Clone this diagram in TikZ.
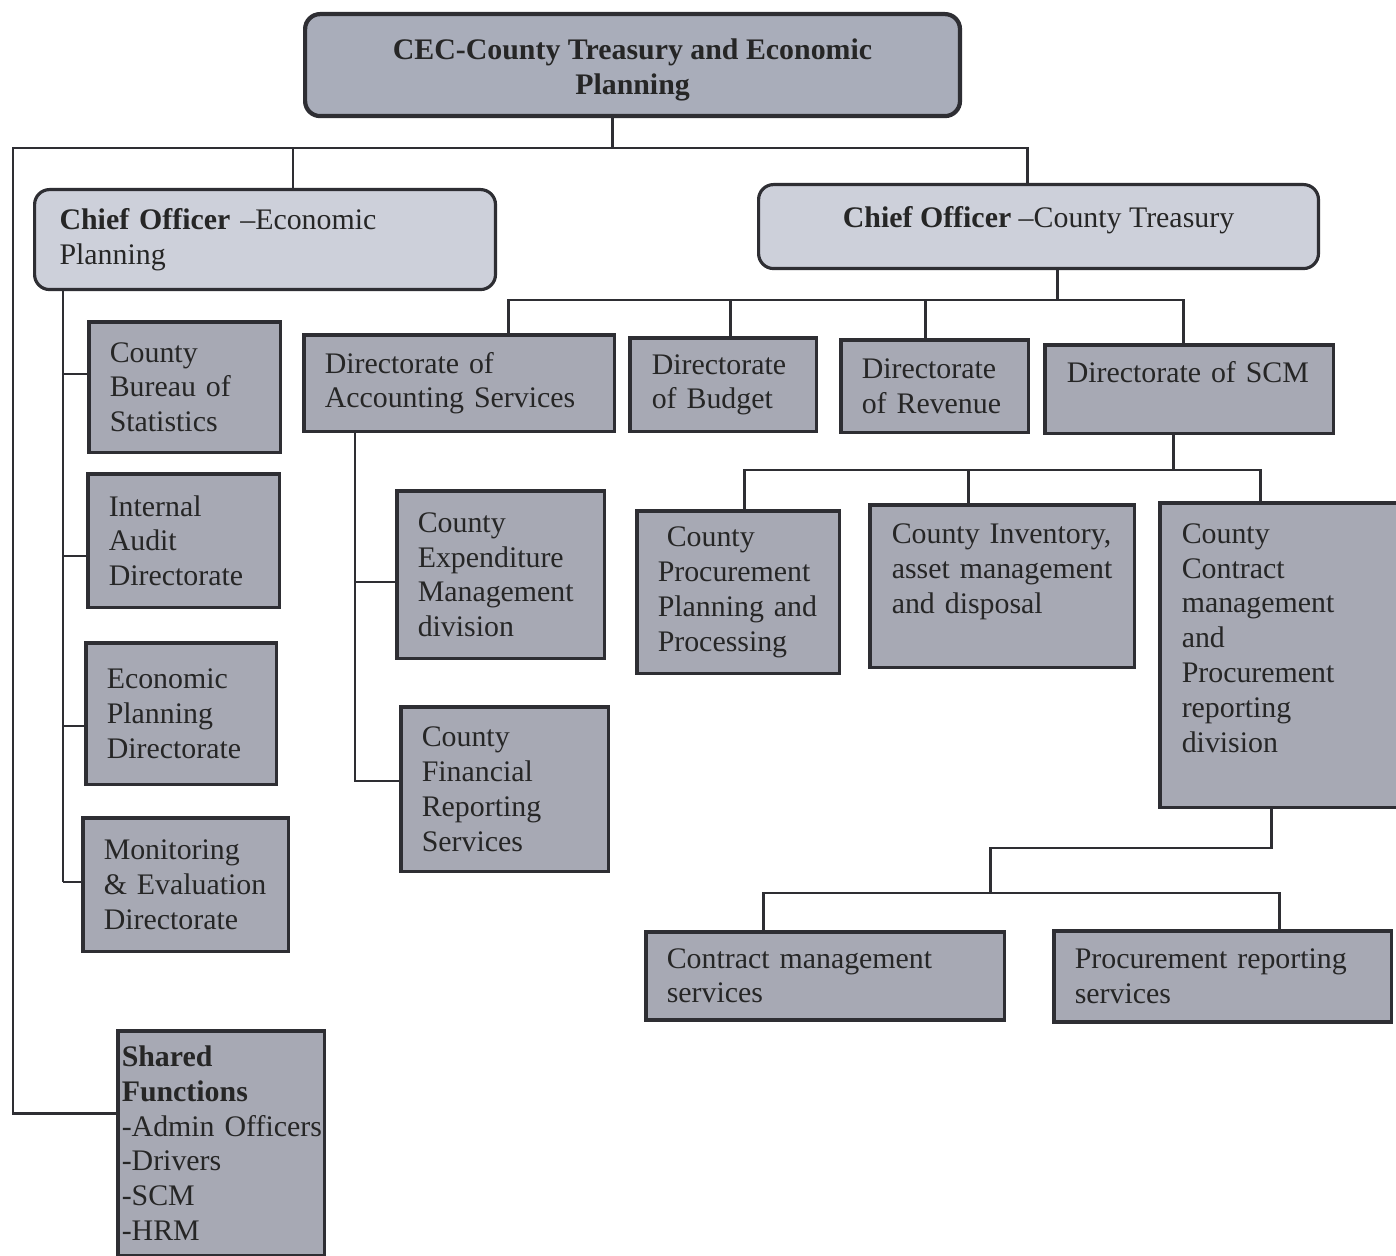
\documentclass[tikz,border=0pt]{standalone}
\usepackage{fontspec}
\setmainfont{Liberation Serif}
\usepackage{tikz}
\definecolor{ink}{HTML}{2E2E33}
\definecolor{cecfill}{HTML}{A9ADBA}
\definecolor{chieffill}{HTML}{CDD0DA}
\definecolor{unitfill}{HTML}{A7A9B4}

\begin{document}
\begin{tikzpicture}[x=0.02cm, y=-0.02cm, font={\fontsize{17}{19.8}\selectfont},
    link/.style = {draw=ink, line width=1.7pt},
    head/.style = {draw=ink, fill=cecfill, line width=2.4pt, rounded corners=0.3cm, anchor=north west, align=center, inner sep=0pt, text=black!85, font={\fontsize{17}{19.8}\selectfont\bfseries}},
    chief/.style = {draw=ink, fill=chieffill, line width=1.8pt, rounded corners=0.3cm, anchor=north west, inner ysep=0pt, text=black!85},
    unit/.style = {draw=ink, fill=unitfill, line width=2pt, anchor=north west, align=left, inner xsep=0.42cm, inner ysep=0pt, text=black!85}]
    \fill[white] (0,0) rectangle (1396,1256);
    \useasboundingbox (0,0) rectangle (1396,1256);

    % top levels
    \node[head, minimum width=13.1cm, minimum height=2.04cm] (cec) at (303,12) {\rule{0pt}{0.6cm}CEC-County Treasury and Economic\\Planning};
    \node[chief, minimum width=9.22cm, minimum height=2.0cm, inner xsep=0.5cm, text width=8.22cm, align=left] (coep) at (33,188) {\textbf{Chief Officer} \textendash Economic\\Planning};
    \node[chief, minimum width=11.2cm, minimum height=1.68cm, align=center] (coct) at (757,183) {\textbf{Chief Officer} \textendash County Treasury\\[-0.32cm]};

    % economic planning side
    \node[unit, minimum width=3.84cm, minimum height=2.62cm, text width=3.00cm] (bureau) at (87,320) {County\\Bureau~of\\Statistics};
    \node[unit, minimum width=3.84cm, minimum height=2.68cm, text width=3.00cm] (audit) at (86,472) {Internal\\Audit\\Directorate};
    \node[unit, minimum width=3.82cm, minimum height=2.84cm, text width=2.98cm] (econ) at (84,641) {Economic\\Planning\\Directorate};
    \node[unit, minimum width=4.12cm, minimum height=2.68cm, text width=3.28cm] (mne) at (81,816) {Monitoring\\\&~Evaluation\\Directorate};
    \node[unit, minimum width=4.14cm, minimum height=4.5cm, inner xsep=0.08cm, text width=3.98cm] (shared) at (116,1029) {\textbf{Shared}\\\textbf{Functions}\\\mbox{-Admin Officers}\\-Drivers\\-SCM\\-HRM};

    % treasury directorates
    \node[unit, minimum width=6.22cm, minimum height=1.94cm, text width=5.38cm] (acct) at (302,333) {Directorate~of\\Accounting~Services};
    \node[unit, minimum width=3.74cm, minimum height=1.88cm, inner xsep=0.44cm, text width=2.86cm] (budget) at (628,336) {Directorate\\of~Budget};
    \node[unit, minimum width=3.76cm, minimum height=1.86cm, text width=2.92cm] (revenue) at (839,338) {Directorate\\of~Revenue};
    \node[unit, minimum width=5.78cm, minimum height=1.78cm, inner xsep=0.44cm, text width=4.90cm] (scmdir) at (1043,343) {Directorate~of~SCM\\~};

    \node[unit, minimum width=4.16cm, minimum height=3.36cm, text width=3.32cm] (expend) at (395,489) {County\\Expenditure\\Management\\division};
    \node[unit, minimum width=4.16cm, minimum height=3.30cm, text width=3.32cm] (finrep) at (399,705) {County\\Financial\\Reporting\\Services};

    \node[unit, minimum width=4.06cm, minimum height=3.26cm, text width=3.22cm] (procplan) at (635,509) {\hspace{0.18cm}County\\Procurement\\Planning~and\\Processing};
    \node[unit, minimum width=5.30cm, minimum height=3.26cm, inner xsep=0.44cm, text width=4.42cm] (inventory) at (868,503) {County~Inventory,\\asset~management\\and~disposal\\~};
    \node[unit, minimum width=4.80cm, minimum height=6.10cm, inner xsep=0.44cm, text width=3.92cm] (contract) at (1158,501) {County\\Contract\\management\\and\\Procurement\\reporting\\division\\~};

    \node[unit, minimum width=7.18cm, minimum height=1.76cm, text width=6.34cm] (cms) at (644,930) {Contract~management\\services};
    \node[unit, minimum width=6.76cm, minimum height=1.82cm, text width=5.92cm] (prs) at (1052,929) {Procurement~reporting\\services};

    % bus lines
    \coordinate (lt) at (13,148);
    \coordinate (sf) at (13,1113);
    \coordinate (b0) at (612,148);
    \coordinate (b1) at (293,148);
    \coordinate (b2) at (1027,148);
    \draw[link] (cec.south -| b0) -- (b0);
    \draw[link] (shared.west |- sf) -- (sf) -- (lt) -- (b2) -- (coct.north -| b2);
    \draw[link] (b1) -- (coep.north -| b1);

    \coordinate (e0) at (63,288);
    \coordinate (e4) at (63,882);
    \draw[link] (coep.south -| e0) -- (e4);
    \foreach \y/\n in {374/bureau, 556/audit, 726/econ, 882/mne}{
        \coordinate (e-\n) at (63,\y);
        \draw[link] (e-\n) -- (\n.west |- e-\n);
    }

    \coordinate (t0) at (1057,300);
    \coordinate (ta) at (508,300);
    \coordinate (tb) at (730,300);
    \coordinate (tc) at (925,300);
    \coordinate (td) at (1183,300);
    \draw[link] (coct.south -| t0) -- (t0);
    \draw[link] (acct.north -| ta) -- (ta) -- (td) -- (scmdir.north -| td);
    \draw[link] (tb) -- (budget.north -| tb);
    \draw[link] (tc) -- (revenue.north -| tc);

    \coordinate (a1) at (355,582);
    \coordinate (a2) at (355,781);
    \draw[link] (acct.south -| a1) -- (a2) -- (finrep.west |- a2);
    \draw[link] (a1) -- (expend.west |- a1);

    \coordinate (s0) at (1173,470);
    \coordinate (s1) at (744,470);
    \coordinate (s2) at (968,470);
    \coordinate (s3) at (1260,470);
    \draw[link] (scmdir.south -| s0) -- (s0);
    \draw[link] (procplan.north -| s1) -- (s1) -- (s3) -- (contract.north -| s3);
    \draw[link] (s2) -- (inventory.north -| s2);

    \coordinate (c0) at (1271,848);
    \coordinate (c1) at (990,848);
    \coordinate (c2) at (990,893);
    \coordinate (c3) at (763,893);
    \coordinate (c4) at (1279,893);
    \draw[link] (contract.south -| c0) -- (c0) -- (c1) -- (c2);
    \draw[link] (cms.north -| c3) -- (c3) -- (c4) -- (prs.north -| c4);
\end{tikzpicture}
\end{document}
